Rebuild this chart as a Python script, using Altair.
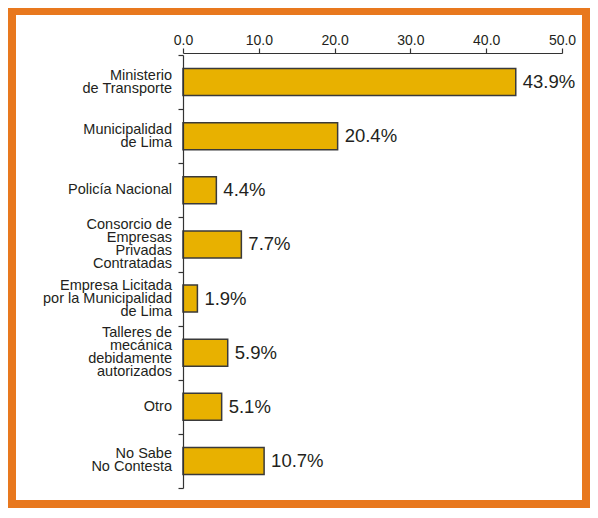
import altair as alt
import pandas as pd

categories = [
    "Ministerio\nde Transporte",
    "Municipalidad\nde Lima",
    "Policía Nacional",
    "Consorcio de\nEmpresas\nPrivadas\nContratadas",
    "Empresa Licitada\npor la Municipalidad\nde Lima",
    "Talleres de\nmecánica\ndebidamente\nautorizados",
    "Otro",
    "No Sabe\nNo Contesta",
]
values = [43.9, 20.4, 4.4, 7.7, 1.9, 5.9, 5.1, 10.7]
value_labels = ["43.9%", "20.4%", "4.4%", "7.7%", "1.9%", "5.9%", "5.1%", "10.7%"]
tick_values = [0, 5, 10, 15, 20, 25, 30, 35, 40, 45, 50]
tick_labels = ["0.0", "0.5", "10.0", "15.0", "20.0", "25.0", "30.0", "35.0", "40.0", "45.0", "50.0"]

LH = 13  # line height of category labels
W, H = 379, 433

df = pd.DataFrame({"cat": categories, "val": values, "lab": value_labels})
# yOffset puts labels at band start: move to band centre and centre each block
step = H / len(categories)
df["off"] = [step / 2 - c.count("\n") * LH / 2 for c in categories]

# build label expression from the tick lists
expr = "''"
for v, l in reversed(list(zip(tick_values, tick_labels))):
    expr = f"datum.value == {v} ? '{l}' : ({expr})"

FONT = "Liberation Sans"
ORANGE = "#E8781E"
BAR = "#E8B100"
TXT = "#231F20"

panel = alt.Chart(alt.Data(values=[{}])).mark_rect(color="white").encode(
    x=alt.value(-167), x2=alt.value(399), y=alt.value(-40), y2=alt.value(445)
)

y_enc = alt.Y(
    "cat:N",
    sort=categories,
    scale=alt.Scale(paddingInner=0, paddingOuter=0),
    axis=alt.Axis(
        title=None,
        tickBand="extent",
        labels=False,
        tickSize=5,
        tickColor="#333333",
        domainColor="#333333",
        domainWidth=1.2,
        tickWidth=1.2,
        zindex=1,
    ),
)

bars = alt.Chart(df).mark_bar(
    size=27, color=BAR, stroke="#3a3a3a", strokeWidth=1.5
).encode(
    x=alt.X(
        "val:Q",
        scale=alt.Scale(domain=[0, 50], nice=False),
        axis=alt.Axis(
            orient="top",
            title=None,
            values=tick_values,
            labelExpr=expr,
            labelOverlap=False,
            grid=False,
            offset=2,
            labelFont=FONT,
            labelFontSize=14,
            labelColor=TXT,
            labelPadding=1,
            tickSize=5,
            tickColor="#333333",
            domainColor="#333333",
            domainWidth=1.2,
            tickWidth=1.2,
            labelFlush=False,
            zindex=1,
        ),
    ),
    y=y_enc,
)

cat_labels = alt.Chart(df).mark_text(
    align="right", baseline="middle", font=FONT, fontSize=14.5, color=TXT,
    lineBreak="\n", lineHeight=LH,
).encode(
    x=alt.value(-11),
    y=alt.Y("cat:N", sort=categories),
    yOffset=alt.YOffset("off:Q", scale=None),
    text="cat:N",
)

text = alt.Chart(df).mark_text(
    align="left", baseline="middle", dx=7, font=FONT, fontSize=18.5, color=TXT
).encode(
    x="val:Q",
    y=alt.Y("cat:N", sort=categories),
    text="lab:N",
)

chart = (
    alt.layer(panel, bars, text, cat_labels)
    .properties(
        width=W,
        height=H,
        background=ORANGE,
        padding={"left": 175, "top": 47, "right": 28, "bottom": 20},
        autosize=alt.AutoSizeParams(type="none"),
    )
    .configure_view(stroke=None)
)

chart.save("out.html", embed_options={"renderer": "svg", "actions": False})
